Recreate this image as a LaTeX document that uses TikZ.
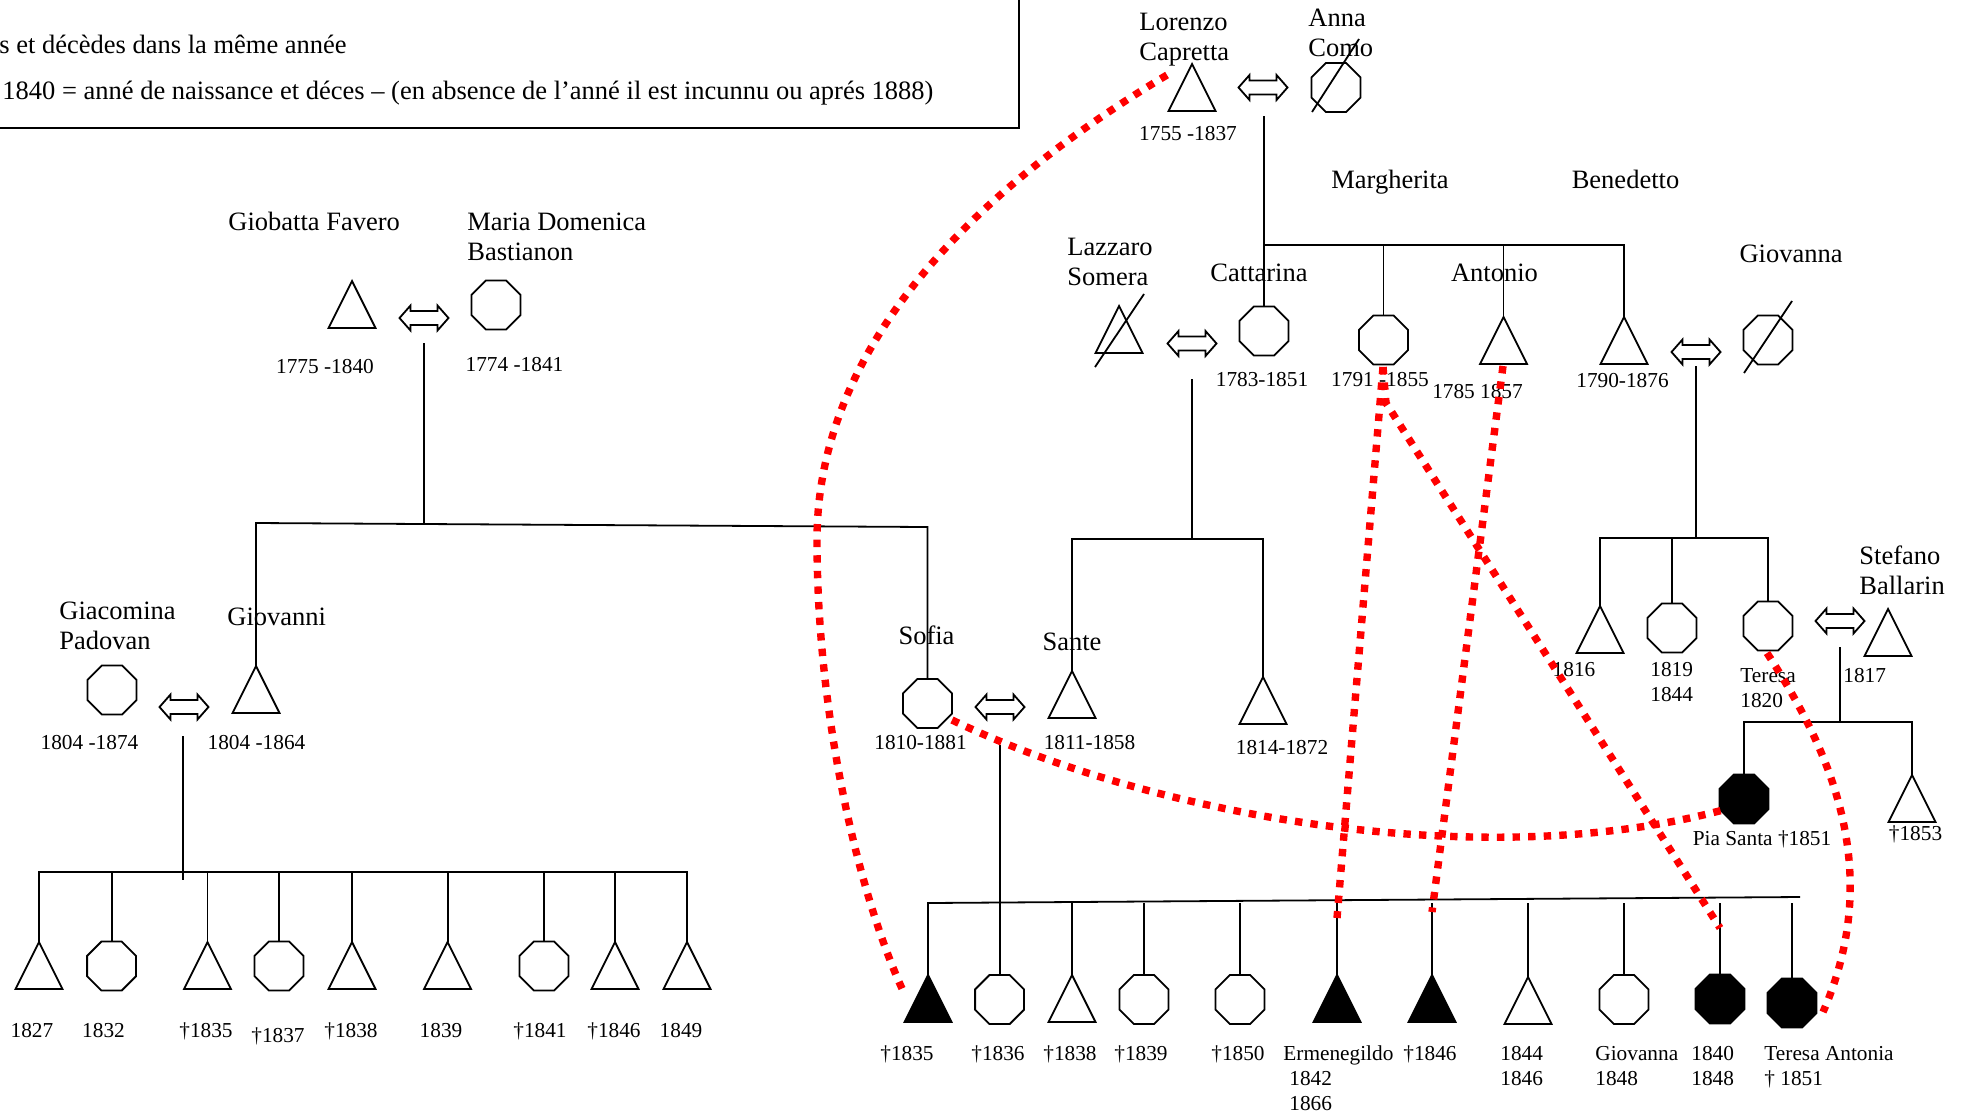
\documentclass[tikz,border=0pt]{standalone}
\usepackage{fontspec}
\setmainfont{Liberation Serif}
\usetikzlibrary{shapes.geometric}
\newcommand{\nmfont}{\fontsize{13.25pt}{15.25pt}\selectfont}
\newcommand{\dtfont}{\fontsize{10.65pt}{12.5pt}\selectfont}
\newcommand{\twol}[2]{\begin{tabular}[t]{@{}l@{}}#1\\#2\end{tabular}}
\tikzset{
  ln/.style={line width=0.9pt, black},
  tri/.style={draw, line width=0.9pt, fill=white, isosceles triangle, isosceles triangle stretches,
    rotate=90, inner sep=0pt, outer sep=0pt, minimum width=23.5pt, minimum height=23.5pt, anchor=apex},
  oct/.style={draw, line width=0.9pt, fill=white, regular polygon, regular polygon sides=8,
    minimum size=26.5pt, inner sep=0pt, outer sep=0pt},
  dead/.style={fill=black},
  txt/.style={inner sep=0pt, font=\nmfont},
  dt/.style={inner sep=0pt, font=\dtfont},
  reddot/.style={draw=red, line width=3.7pt, dash pattern=on 3.7pt off 4.1pt},
  dblarrow/.pic={
    \draw[line width=0.9pt, fill=white, line join=miter]
      (-24.5,0) -- (-13.5,12.5) -- (-13.5,7) -- (13.5,7) -- (13.5,12.5) -- (24.5,0)
      -- (13.5,-12.5) -- (13.5,-7) -- (-13.5,-7) -- (-13.5,-12.5) -- cycle;
    \coordinate (-c) at (0,0);
  }
}
\begin{document}
\begin{tikzpicture}[x=0.5pt,y=-0.5pt]
\useasboundingbox (0,0) rectangle (1964,1115);
\fill[white] (0,0) rectangle (1964,1115);
\clip (0,0) rectangle (1964,1115);

% legend
\draw[line width=0.8pt] (-20,-20) rectangle (1019,128);
\node[txt, anchor=base west] (leg1) at (-1,53) {s et décèdes dans la même année};
\node[txt, anchor=base west] (leg2) at (2,99) {1840 = anné de naissance et déces – (en absence de l’anné il est incunnu ou aprés 1888)};

% ---- Lorenzo Capretta & Anna Como
\node[tri] (lorenzo) at (1192,64) {};
\node[oct] (anna) at (1336,87.5) {};
\pic (mLA) at (1263,87.5) {dblarrow};
\draw[ln] (1312,112) -- (1359,39);
\node[txt, anchor=base west] (nLorenzo) at (1139,30) {\twol{Lorenzo}{Capretta}};
\node[txt, anchor=base west] (nAnna) at (1308,26) {\twol{Anna}{Como}};
\node[dt, anchor=base] (dLorenzo) at (1188,140) {1755 -1837};

\node[oct] (catt) at (1264,331) {};
\node[oct] (marg) at (1383.5,340) {};
\node[tri] (anto) at (1503.5,317) {};
\node[tri] (bene) at (1624,317) {};
\node[txt, anchor=base] (nCatt) at (1259,281) {Cattarina};
\node[txt, anchor=base] (nMarg) at (1390,188) {Margherita};
\node[txt, anchor=base] (nAnto) at (1494.5,281) {Antonio};
\node[txt, anchor=base] (nBene) at (1625.5,188) {Benedetto};
\node[dt, anchor=base] (dCatt) at (1262,386) {1783-1851};
\node[dt, anchor=base] (dMarg) at (1380,386) {1791 -1855};
\node[dt, anchor=base] (dAnto) at (1477.5,398) {1785 1857};
\node[dt, anchor=base] (dBene) at (1622.5,387) {1790-1876};

\coordinate (lcA) at (1264,116);
\coordinate (lcB) at (1264,245);
\draw[ln] (lcA) -- (catt.north);
\draw[ln] (lcB) -- (bene.apex |- lcB) -- (bene.apex);
\draw[ln] (marg.north |- lcB) -- (marg.north);
\draw[ln] (anto.apex |- lcB) -- (anto.apex);

% ---- Lazzaro Somera & Cattarina
\node[tri] (lazz) at (1119,306) {};
\draw[ln] (1095,367) -- (1144,294);
\node[txt, anchor=base west] (nLazz) at (1067,255) {\twol{Lazzaro}{Somera}};
\pic (mLC) at (1192,343.5) {dblarrow};
\node[tri] (sante) at (1072,671) {};
\node[tri] (s1814) at (1263,677) {};
\node[txt, anchor=base] (nSante) at (1072,650) {Sante};
\node[dt, anchor=base] (dSante) at (1089.5,749) {1811-1858};
\node[dt, anchor=base] (d1814) at (1282,754) {1814-1872};
\coordinate (lzA) at (1192,379);
\coordinate (lzB) at (1192,539);
\draw[ln] (lzA) -- (lzB);
\draw[ln] (sante.apex) -- (sante.apex |- lzB) -- (s1814.apex |- lzB) -- (s1814.apex);

% ---- Benedetto & Giovanna
\pic (mBG) at (1696,352) {dblarrow};
\node[oct] (giov) at (1768,340) {};
\draw[ln] (1744,373) -- (1792,301);
\node[txt, anchor=base] (nGiov) at (1791,262) {Giovanna};
\node[tri] (b1) at (1600,606) {};
\node[oct] (b2) at (1672,628) {};
\node[oct] (teresa) at (1768,626) {};
\node[dt, anchor=base] (d1816) at (1574,676) {1816};
\node[dt, anchor=base west] (d1819) at (1650,676) {\twol{1819}{1844}};
\node[dt, anchor=base west] (nTeresa) at (1740,682) {\twol{Teresa}{1820}};
\coordinate (bgA) at (1696,366);
\coordinate (bgB) at (1696,538);
\draw[ln] (bgA) -- (bgB);
\draw[ln] (b1.apex) -- (b1.apex |- bgB) -- (teresa.north |- bgB) -- (teresa.north);
\draw[ln] (b2.north |- bgB) -- (b2.north);

% ---- Teresa & Stefano Ballarin
\pic (mTS) at (1840,621) {dblarrow};
\node[tri] (stef) at (1888,609) {};
\node[txt, anchor=base west] (nStef) at (1859,564) {\twol{Stefano}{Ballarin}};
\node[dt, anchor=base west] (d1817) at (1843,682) {1817};
\node[oct, dead] (pia) at (1744,799) {};
\node[tri] (t1853) at (1912,775) {};
\node[dt, anchor=base] (dPia) at (1762,845) {Pia Santa †1851};
\node[dt, anchor=base] (d1853) at (1915.5,840) {†1853};
\coordinate (tsA) at (1840,647);
\coordinate (tsB) at (1840,722);
\draw[ln] (tsA) -- (tsB);
\draw[ln] (pia.north) -- (pia.north |- tsB) -- (t1853.apex |- tsB) -- (t1853.apex);

% ---- Giobatta Favero & Maria Domenica Bastianon
\node[txt, anchor=base west] (nGiob) at (228,230) {Giobatta Favero};
\node[txt, anchor=base west] (nMaria) at (467,230) {\twol{Maria Domenica}{Bastianon}};
\node[tri] (giob) at (352,281) {};
\pic (mGM) at (424,318) {dblarrow};
\node[oct] (maria) at (496,305) {};
\node[dt, anchor=base] (dGiob) at (325,373) {1775 -1840};
\node[dt, anchor=base] (dMaria) at (514.5,371) {1774 -1841};

% ---- Giovanni & Giacomina Padovan
\node[tri] (gvni) at (256,666) {};
\node[oct] (giac) at (112,690) {};
\pic (mGG) at (184,707) {dblarrow};
\node[txt, anchor=base west] (nGiac) at (59,619) {\twol{Giacomina}{Padovan}};
\node[txt, anchor=base west] (nGvni) at (227,625) {Giovanni};
\node[dt, anchor=base] (dGiac) at (89.5,749) {1804 -1874};
\node[dt, anchor=base] (dGvni) at (256.5,749) {1804 -1864};

% ---- Sofia & Sante
\node[oct] (sofia) at (927.5,703.5) {};
\node[txt, anchor=base] (nSofia) at (926.5,644) {Sofia};
\pic (mSS) at (1000,707) {dblarrow};
\node[dt, anchor=base] (dSofia) at (920.5,749) {1810-1881};

\coordinate (gmA) at (424,343);
\coordinate (gmB) at (424,525);
\coordinate (gbL) at (256,523);
\coordinate (gbR) at (927.5,527);
\draw[ln] (gmA) -- (gmB);
\draw[ln] (gvni.apex) -- (gbL) -- (gbR) -- (sofia.north);

% children of Giovanni
\node[tri] (k1) at (39,942) {};
\node[oct] (k2) at (111.6,966) {};
\node[tri] (k3) at (207.5,942) {};
\node[oct] (k4) at (279,966) {};
\node[tri] (k5) at (352,942) {};
\node[tri] (k6) at (447.6,942) {};
\node[oct] (k7) at (544,966) {};
\node[tri] (k8) at (615,942) {};
\node[tri] (k9) at (687,942) {};
\coordinate (gvA) at (183,736);
\coordinate (gvB) at (183,880);
\coordinate (gvBar) at (0,872);
\draw[ln] (gvA) -- (gvB);
\draw[ln] (k1.apex) -- (k1.apex |- gvBar) -- (k9.apex |- gvBar) -- (k9.apex);
\foreach \k in {k3,k5,k6,k8}{\draw[ln] (\k.apex |- gvBar) -- (\k.apex);}
\foreach \k in {k2,k4,k7}{\draw[ln] (\k.north |- gvBar) -- (\k.north);}
\node[dt, anchor=base] (lk1) at (32,1037) {1827};
\node[dt, anchor=base] (lk2) at (103.5,1037) {1832};
\node[dt, anchor=base] (lk3) at (206,1037) {†1835};
\node[dt, anchor=base] (lk4) at (278,1042) {†1837};
\node[dt, anchor=base] (lk5) at (351,1037) {†1838};
\node[dt, anchor=base] (lk6) at (441,1037) {1839};
\node[dt, anchor=base] (lk7) at (540,1037) {†1841};
\node[dt, anchor=base] (lk8) at (614,1037) {†1846};
\node[dt, anchor=base] (lk9) at (681,1037) {1849};

% children of Sofia & Sante
\node[tri, dead] (c1) at (928,975) {};
\node[oct] (c2) at (999.6,999.5) {};
\node[tri] (c3) at (1072,975) {};
\node[oct] (c4) at (1144,999.5) {};
\node[oct] (c5) at (1240,999.5) {};
\node[tri, dead] (c6) at (1337,975) {};
\node[tri, dead] (c7) at (1432,975) {};
\node[tri] (c8) at (1528,977) {};
\node[oct] (c9) at (1624,999.5) {};
\node[oct, dead] (c10) at (1720,999) {};
\node[oct, dead] (c11) at (1792,1003) {};
\coordinate (ssA) at (999.6,745);
\coordinate (sbL) at (928,903);
\coordinate (sbR) at (1800,897);
\draw[ln] (ssA) -- (c2.north);
\draw[ln] (c1.apex) -- (sbL) -- (sbR);
\foreach \k in {c3,c6,c7,c8}{\draw[ln] (\k.apex |- sbL) -- (\k.apex);}
\foreach \k in {c4,c5,c9,c10,c11}{\draw[ln] (\k.north |- sbL) -- (\k.north);}
\node[dt, anchor=base] (lc1) at (907,1060) {†1835};
\node[dt, anchor=base] (lc2) at (998,1060) {†1836};
\node[dt, anchor=base] (lc3) at (1070,1060) {†1838};
\node[dt, anchor=base] (lc4) at (1141,1060) {†1839};
\node[dt, anchor=base] (lc5) at (1238,1060) {†1850};
\node[dt, anchor=base west] (lc6) at (1283,1060) {\begin{tabular}[t]{@{}l@{}}Ermenegildo\\\hspace{3pt}1842\\\hspace{3pt}1866\end{tabular}};
\node[dt, anchor=base] (lc7) at (1430,1060) {†1846};
\node[dt, anchor=base west] (lc8) at (1500,1060) {\twol{1844}{1846}};
\node[dt, anchor=base west] (lc9) at (1595,1060) {\twol{Giovanna}{1848}};
\node[dt, anchor=base west] (lc10) at (1691,1060) {\twol{1840}{1848}};
\node[dt, anchor=base west] (lc11) at (1764,1060) {\twol{Teresa Antonia}{† 1851}};

% ---- red dotted links
\coordinate (r1a) at (1167,75);
\coordinate (r1m) at (817,540);
\coordinate (r1b) at (905,995);
\draw[reddot] (r1a) .. controls (1000,175) and (817,330) .. (r1m) .. controls (817,720) and (860,900) .. (r1b);
\coordinate (r2a) at (952,720);
\coordinate (r2b) at (1723,810);
\draw[reddot] (r2a) .. controls (1150,815) and (1480,875) .. (r2b);
\coordinate (r3a) at (1383,367);
\coordinate (r3b) at (1337,918);
\draw[reddot] (r3a) -- (r3b);
\coordinate (r4k) at (1386,403);
\coordinate (r4b) at (1720,928);
\draw[reddot] (r3a) -- (r4k) -- (r4b);
\coordinate (r5a) at (1503,366);
\coordinate (r5b) at (1432,912);
\draw[reddot] (r5a) -- (r5b);
\coordinate (r6a) at (1767,653);
\coordinate (r6b) at (1823,1012);
\draw[reddot] (r6a) .. controls (1830,750) and (1885,870) .. (r6b);
\end{tikzpicture}
\end{document}
